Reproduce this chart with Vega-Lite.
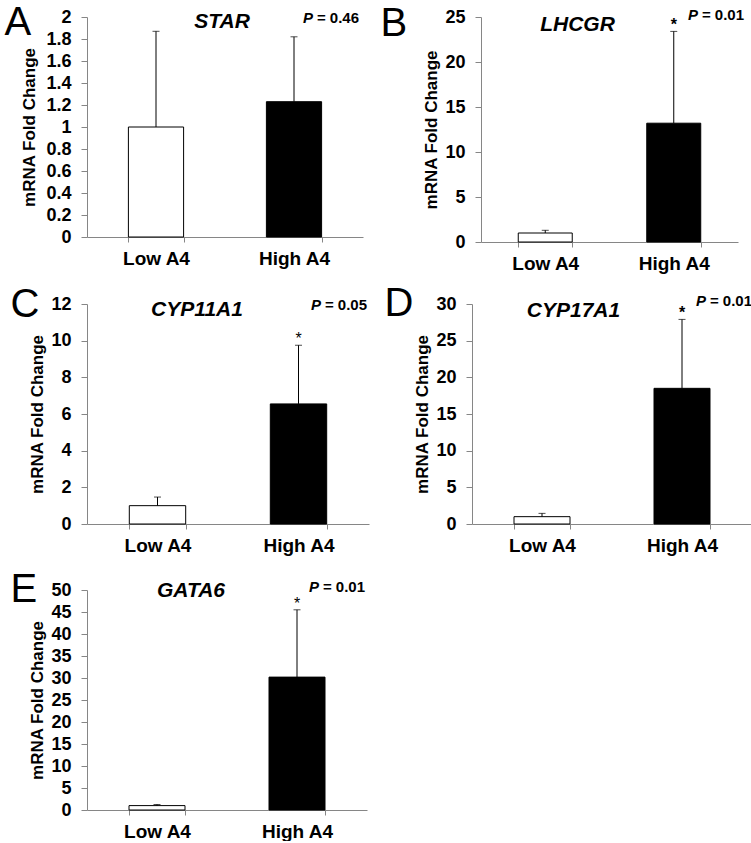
{
  "$schema": "https://vega.github.io/schema/vega-lite/v6.json",
  "padding": {"left": 4, "top": 2, "right": 0, "bottom": 0},
  "background": "white",
  "config": {
    "font": "Liberation Sans",
    "view": {"stroke": null},
    "axis": {"domainColor": "#868686", "tickColor": "#868686", "labelColor": "#000000", "labelFontWeight": "bold", "titleFontWeight": "bold", "titleColor": "#000000", "grid": false, "domainWidth": 1, "tickWidth": 1},
    "axisY": {"labelFontSize": 18, "titleFontSize": 17, "tickSize": 6, "labelPadding": 10, "titleBaseline": "middle", "labelOverlap": false},
    "axisX": {"labelFontSize": 19, "tickSize": 5, "labelPadding": 7, "labelAngle": 0, "tickBand": "extent"}
  },
  "datasets": {
    "fc": [
      {"gene": "STAR", "group": "Low A4", "mean": 1.0, "upper": 1.87, "sig": ""},
      {"gene": "STAR", "group": "High A4", "mean": 1.23, "upper": 1.82, "sig": ""},
      {"gene": "LHCGR", "group": "Low A4", "mean": 1.0, "upper": 1.3, "sig": ""},
      {"gene": "LHCGR", "group": "High A4", "mean": 13.2, "upper": 23.4, "sig": "*"},
      {"gene": "CYP11A1", "group": "Low A4", "mean": 1.0, "upper": 1.47, "sig": ""},
      {"gene": "CYP11A1", "group": "High A4", "mean": 6.55, "upper": 9.75, "sig": "*"},
      {"gene": "CYP17A1", "group": "Low A4", "mean": 1.0, "upper": 1.45, "sig": ""},
      {"gene": "CYP17A1", "group": "High A4", "mean": 18.5, "upper": 27.9, "sig": "*"},
      {"gene": "GATA6", "group": "Low A4", "mean": 1.0, "upper": 1.25, "sig": ""},
      {"gene": "GATA6", "group": "High A4", "mean": 30.2, "upper": 45.5, "sig": "*"}
    ]
  },
  "vconcat": [
    {
      "spacing": 10,
      "vconcat": [
        {
          "spacing": 17,
          "hconcat": [
            {
              "width": 276, "height": 220,
              "title": {"text": "A", "fontSize": 40, "fontWeight": "normal", "anchor": "start", "frame": "bounds", "orient": "top", "offset": -66.5, "baseline": "alphabetic", "dx": -16, "color": "#000000"},
              "data": {"name": "fc"},
              "transform": [{"filter": "datum.gene === 'STAR'"}],
              "layer": [
                {"mark": {"type": "bar", "stroke": "#000000", "strokeWidth": 1},
                 "encoding": {
                   "x": {"field": "group", "type": "nominal", "sort": ["Low A4", "High A4"], "scale": {"paddingInner": 0.6, "paddingOuter": 0.3}, "axis": {"title": null}},
                   "y": {"field": "mean", "type": "quantitative", "scale": {"domain": [0, 2], "nice": false}, "axis": {"title": "mRNA Fold Change", "values": [0, 0.2, 0.4, 0.6, 0.8, 1, 1.2, 1.4, 1.6, 1.8, 2], "tickCount": 11, "labelOverlap": false, "format": "~f", "titleX": -57.5}},
                   "fill": {"field": "group", "type": "nominal", "scale": {"domain": ["Low A4", "High A4"], "range": ["#ffffff", "#000000"]}, "legend": null}
                 }},
                {"mark": {"type": "rule", "color": "#000000", "strokeWidth": 1},
                 "encoding": {"x": {"field": "group", "type": "nominal", "sort": ["Low A4", "High A4"]}, "y": {"field": "mean", "type": "quantitative"}, "y2": {"field": "upper"}}},
                {"mark": {"type": "tick", "color": "#000000", "size": 7, "thickness": 1},
                 "encoding": {"x": {"field": "group", "type": "nominal", "sort": ["Low A4", "High A4"]}, "y": {"field": "upper", "type": "quantitative"}}},
                {"mark": {"type": "text", "fontSize": 16, "fontWeight": "bold", "baseline": "alphabetic", "dy": -1},
                 "encoding": {"x": {"field": "group", "type": "nominal", "sort": ["Low A4", "High A4"]}, "y": {"field": "upper", "type": "quantitative"}, "text": {"field": "sig"}}},
                {"data": {"values": [{}]},
                 "mark": {"type": "text", "text": "STAR", "fontSize": 21, "fontWeight": "bold", "fontStyle": "italic", "baseline": "middle", "dx": -3, "dy": 4.5},
                 "encoding": {"y": {"datum": 2, "type": "quantitative"}}},
                {"data": {"values": [{}]},
                 "mark": {"type": "text", "text": "= 0.46", "fontSize": 15, "fontWeight": "bold", "align": "right", "baseline": "middle", "dx": -4, "dy": 1},
                 "encoding": {"x": {"value": "width"}, "y": {"datum": 2, "type": "quantitative"}}},
                {"data": {"values": [{}]},
                 "mark": {"type": "text", "text": "P", "fontSize": 15, "fontWeight": "bold", "fontStyle": "italic", "align": "right", "baseline": "middle", "dx": -50, "dy": 1},
                 "encoding": {"x": {"value": "width"}, "y": {"datum": 2, "type": "quantitative"}}}
              ]
            },
            {
              "width": 257, "height": 225,
              "title": {"text": "B", "fontSize": 40, "fontWeight": "normal", "anchor": "start", "frame": "bounds", "orient": "top", "offset": -67.5, "baseline": "alphabetic", "dx": -41.5, "color": "#000000"},
              "data": {"name": "fc"},
              "transform": [{"filter": "datum.gene === 'LHCGR'"}],
              "layer": [
                {"mark": {"type": "bar", "stroke": "#000000", "strokeWidth": 1},
                 "encoding": {
                   "x": {"field": "group", "type": "nominal", "sort": ["Low A4", "High A4"], "scale": {"paddingInner": 0.58, "paddingOuter": 0.29}, "axis": {"title": null}},
                   "y": {"field": "mean", "type": "quantitative", "scale": {"domain": [0, 25], "nice": false}, "axis": {"title": "mRNA Fold Change", "values": [0, 5, 10, 15, 20, 25], "tickCount": 6, "labelOverlap": false, "format": "~f", "titleX": -50}},
                   "fill": {"field": "group", "type": "nominal", "scale": {"domain": ["Low A4", "High A4"], "range": ["#ffffff", "#000000"]}, "legend": null}
                 }},
                {"mark": {"type": "rule", "color": "#000000", "strokeWidth": 1},
                 "encoding": {"x": {"field": "group", "type": "nominal", "sort": ["Low A4", "High A4"]}, "y": {"field": "mean", "type": "quantitative"}, "y2": {"field": "upper"}}},
                {"mark": {"type": "tick", "color": "#000000", "size": 7, "thickness": 1},
                 "encoding": {"x": {"field": "group", "type": "nominal", "sort": ["Low A4", "High A4"]}, "y": {"field": "upper", "type": "quantitative"}}},
                {"mark": {"type": "text", "fontSize": 16, "fontWeight": "bold", "baseline": "alphabetic", "dy": -1},
                 "encoding": {"x": {"field": "group", "type": "nominal", "sort": ["Low A4", "High A4"]}, "y": {"field": "upper", "type": "quantitative"}, "text": {"field": "sig"}}},
                {"data": {"values": [{}]},
                 "mark": {"type": "text", "text": "LHCGR", "fontSize": 21, "fontWeight": "bold", "fontStyle": "italic", "baseline": "middle", "dx": -32, "dy": 7.5},
                 "encoding": {"y": {"datum": 25, "type": "quantitative"}}},
                {"data": {"values": [{}]},
                 "mark": {"type": "text", "text": "= 0.01", "fontSize": 15, "fontWeight": "bold", "align": "right", "baseline": "middle", "dx": 6, "dy": -2},
                 "encoding": {"x": {"value": "width"}, "y": {"datum": 25, "type": "quantitative"}}},
                {"data": {"values": [{}]},
                 "mark": {"type": "text", "text": "P", "fontSize": 15, "fontWeight": "bold", "fontStyle": "italic", "align": "right", "baseline": "middle", "dx": -40, "dy": -2},
                 "encoding": {"x": {"value": "width"}, "y": {"datum": 25, "type": "quantitative"}}}
              ]
            }
          ]
        },
        {
          "spacing": 15,
          "hconcat": [
            {
              "width": 282, "height": 220,
              "title": {"text": "C", "fontSize": 40, "fontWeight": "normal", "anchor": "start", "frame": "bounds", "orient": "top", "offset": -61.5, "baseline": "alphabetic", "dx": -17.5, "color": "#000000"},
              "data": {"name": "fc"},
              "transform": [{"filter": "datum.gene === 'CYP11A1'"}],
              "layer": [
                {"mark": {"type": "bar", "stroke": "#000000", "strokeWidth": 1},
                 "encoding": {
                   "x": {"field": "group", "type": "nominal", "sort": ["Low A4", "High A4"], "scale": {"paddingInner": 0.6, "paddingOuter": 0.3}, "axis": {"title": null}},
                   "y": {"field": "mean", "type": "quantitative", "scale": {"domain": [0, 12], "nice": false}, "axis": {"title": "mRNA Fold Change", "values": [0, 2, 4, 6, 8, 10, 12], "tickCount": 7, "labelOverlap": false, "format": "~f", "titleX": -50}},
                   "fill": {"field": "group", "type": "nominal", "scale": {"domain": ["Low A4", "High A4"], "range": ["#ffffff", "#000000"]}, "legend": null}
                 }},
                {"mark": {"type": "rule", "color": "#000000", "strokeWidth": 1},
                 "encoding": {"x": {"field": "group", "type": "nominal", "sort": ["Low A4", "High A4"]}, "y": {"field": "mean", "type": "quantitative"}, "y2": {"field": "upper"}}},
                {"mark": {"type": "tick", "color": "#000000", "size": 7, "thickness": 1},
                 "encoding": {"x": {"field": "group", "type": "nominal", "sort": ["Low A4", "High A4"]}, "y": {"field": "upper", "type": "quantitative"}}},
                {"mark": {"type": "text", "fontSize": 16, "fontWeight": "normal", "baseline": "alphabetic", "dy": -1},
                 "encoding": {"x": {"field": "group", "type": "nominal", "sort": ["Low A4", "High A4"]}, "y": {"field": "upper", "type": "quantitative"}, "text": {"field": "sig"}}},
                {"data": {"values": [{}]},
                 "mark": {"type": "text", "text": "CYP11A1", "fontSize": 21, "fontWeight": "bold", "fontStyle": "italic", "baseline": "middle", "dx": -31, "dy": 5.5},
                 "encoding": {"y": {"datum": 12, "type": "quantitative"}}},
                {"data": {"values": [{}]},
                 "mark": {"type": "text", "text": "= 0.05", "fontSize": 15, "fontWeight": "bold", "align": "right", "baseline": "middle", "dx": -2, "dy": 0.5},
                 "encoding": {"x": {"value": "width"}, "y": {"datum": 12, "type": "quantitative"}}},
                {"data": {"values": [{}]},
                 "mark": {"type": "text", "text": "P", "fontSize": 15, "fontWeight": "bold", "fontStyle": "italic", "align": "right", "baseline": "middle", "dx": -48, "dy": 0.5},
                 "encoding": {"x": {"value": "width"}, "y": {"datum": 12, "type": "quantitative"}}}
              ]
            },
            {
              "width": 280, "height": 220,
              "title": {"text": "D", "fontSize": 40, "fontWeight": "normal", "anchor": "start", "frame": "bounds", "orient": "top", "offset": -61.5, "baseline": "alphabetic", "dx": -29, "color": "#000000"},
              "data": {"name": "fc"},
              "transform": [{"filter": "datum.gene === 'CYP17A1'"}],
              "layer": [
                {"mark": {"type": "bar", "stroke": "#000000", "strokeWidth": 1},
                 "encoding": {
                   "x": {"field": "group", "type": "nominal", "sort": ["Low A4", "High A4"], "scale": {"paddingInner": 0.6, "paddingOuter": 0.3}, "axis": {"title": null}},
                   "y": {"field": "mean", "type": "quantitative", "scale": {"domain": [0, 30], "nice": false}, "axis": {"title": "mRNA Fold Change", "values": [0, 5, 10, 15, 20, 25, 30], "tickCount": 7, "labelOverlap": false, "format": "~f", "titleX": -49.5}},
                   "fill": {"field": "group", "type": "nominal", "scale": {"domain": ["Low A4", "High A4"], "range": ["#ffffff", "#000000"]}, "legend": null}
                 }},
                {"mark": {"type": "rule", "color": "#000000", "strokeWidth": 1},
                 "encoding": {"x": {"field": "group", "type": "nominal", "sort": ["Low A4", "High A4"]}, "y": {"field": "mean", "type": "quantitative"}, "y2": {"field": "upper"}}},
                {"mark": {"type": "tick", "color": "#000000", "size": 7, "thickness": 1},
                 "encoding": {"x": {"field": "group", "type": "nominal", "sort": ["Low A4", "High A4"]}, "y": {"field": "upper", "type": "quantitative"}}},
                {"mark": {"type": "text", "fontSize": 16, "fontWeight": "bold", "baseline": "alphabetic", "dy": -1},
                 "encoding": {"x": {"field": "group", "type": "nominal", "sort": ["Low A4", "High A4"]}, "y": {"field": "upper", "type": "quantitative"}, "text": {"field": "sig"}}},
                {"data": {"values": [{}]},
                 "mark": {"type": "text", "text": "CYP17A1", "fontSize": 21, "fontWeight": "bold", "fontStyle": "italic", "baseline": "middle", "dx": -38.5, "dy": 6.5},
                 "encoding": {"y": {"datum": 30, "type": "quantitative"}}},
                {"data": {"values": [{}]},
                 "mark": {"type": "text", "text": "= 0.01", "fontSize": 15, "fontWeight": "bold", "align": "right", "baseline": "middle", "dx": 0, "dy": -3},
                 "encoding": {"x": {"value": "width"}, "y": {"datum": 30, "type": "quantitative"}}},
                {"data": {"values": [{}]},
                 "mark": {"type": "text", "text": "P", "fontSize": 15, "fontWeight": "bold", "fontStyle": "italic", "align": "right", "baseline": "middle", "dx": -46, "dy": -3},
                 "encoding": {"x": {"value": "width"}, "y": {"datum": 30, "type": "quantitative"}}}
              ]
            }
          ]
        }
      ]
    },
    {
      "width": 280, "height": 220,
      "title": {"text": "E", "fontSize": 40, "fontWeight": "normal", "anchor": "start", "frame": "bounds", "orient": "top", "offset": -62.5, "baseline": "alphabetic", "dx": -17.5, "color": "#000000"},
      "data": {"name": "fc"},
      "transform": [{"filter": "datum.gene === 'GATA6'"}],
      "layer": [
        {"mark": {"type": "bar", "stroke": "#000000", "strokeWidth": 1},
         "encoding": {
           "x": {"field": "group", "type": "nominal", "sort": ["Low A4", "High A4"], "scale": {"paddingInner": 0.6, "paddingOuter": 0.3}, "axis": {"title": null}},
           "y": {"field": "mean", "type": "quantitative", "scale": {"domain": [0, 50], "nice": false}, "axis": {"title": "mRNA Fold Change", "values": [0, 5, 10, 15, 20, 25, 30, 35, 40, 45, 50], "tickCount": 11, "labelOverlap": false, "format": "~f", "titleX": -50}},
           "fill": {"field": "group", "type": "nominal", "scale": {"domain": ["Low A4", "High A4"], "range": ["#ffffff", "#000000"]}, "legend": null}
         }},
        {"mark": {"type": "rule", "color": "#000000", "strokeWidth": 1},
         "encoding": {"x": {"field": "group", "type": "nominal", "sort": ["Low A4", "High A4"]}, "y": {"field": "mean", "type": "quantitative"}, "y2": {"field": "upper"}}},
        {"mark": {"type": "tick", "color": "#000000", "size": 7, "thickness": 1},
         "encoding": {"x": {"field": "group", "type": "nominal", "sort": ["Low A4", "High A4"]}, "y": {"field": "upper", "type": "quantitative"}}},
        {"mark": {"type": "text", "fontSize": 16, "fontWeight": "normal", "baseline": "alphabetic", "dy": -1},
         "encoding": {"x": {"field": "group", "type": "nominal", "sort": ["Low A4", "High A4"]}, "y": {"field": "upper", "type": "quantitative"}, "text": {"field": "sig"}}},
        {"data": {"values": [{}]},
         "mark": {"type": "text", "text": "GATA6", "fontSize": 21, "fontWeight": "bold", "fontStyle": "italic", "baseline": "middle", "dx": -36, "dy": 0.5},
         "encoding": {"y": {"datum": 50, "type": "quantitative"}}},
        {"data": {"values": [{}]},
         "mark": {"type": "text", "text": "= 0.01", "fontSize": 15, "fontWeight": "bold", "align": "right", "baseline": "middle", "dx": -2, "dy": -3},
         "encoding": {"x": {"value": "width"}, "y": {"datum": 50, "type": "quantitative"}}},
        {"data": {"values": [{}]},
         "mark": {"type": "text", "text": "P", "fontSize": 15, "fontWeight": "bold", "fontStyle": "italic", "align": "right", "baseline": "middle", "dx": -48, "dy": -3},
         "encoding": {"x": {"value": "width"}, "y": {"datum": 50, "type": "quantitative"}}}
      ]
    }
  ],
  "spacing": 15
}
